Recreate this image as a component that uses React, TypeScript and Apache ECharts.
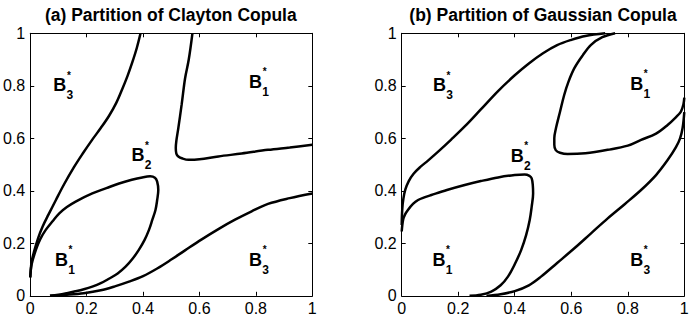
import React, { useEffect, useRef } from "react";
import * as echarts from "echarts";

const FONT = '"Liberation Sans", Arial, Helvetica, sans-serif';

const titles = ["(a) Partition of Clayton Copula", "(b) Partition of Gaussian Copula"];

// Clayton copula partition curves [u, v]
const claytonUpperLeft = [[0,0.07],[0.005,0.13],[0.014,0.17],[0.028,0.22],[0.044,0.264],[0.065,0.31],[0.091,0.365],[0.12,0.425],[0.155,0.49],[0.185,0.54],[0.22,0.595],[0.25,0.639],[0.279,0.685],[0.305,0.735],[0.326,0.787],[0.345,0.838],[0.362,0.89],[0.378,0.945],[0.391,1.0]];
const claytonLoop = [[0,0.07],[0.005,0.12],[0.02,0.175],[0.035,0.215],[0.055,0.251],[0.08,0.285],[0.103,0.314],[0.13,0.338],[0.161,0.359],[0.22,0.39],[0.27,0.41],[0.315,0.428],[0.36,0.442],[0.397,0.451],[0.425,0.455],[0.442,0.45],[0.45,0.435],[0.454,0.403],[0.45,0.365],[0.444,0.327],[0.433,0.29],[0.421,0.251],[0.405,0.212],[0.385,0.175],[0.362,0.14],[0.338,0.111],[0.31,0.085],[0.279,0.065],[0.25,0.048],[0.22,0.035],[0.19,0.025],[0.16,0.017],[0.13,0.01],[0.1,0.004],[0.07,0]];
const claytonLower = [[0.07,0],[0.13,0.004],[0.19,0.01],[0.25,0.021],[0.3,0.036],[0.35,0.054],[0.4,0.075],[0.45,0.104],[0.5,0.138],[0.55,0.174],[0.608,0.215],[0.67,0.256],[0.726,0.29],[0.785,0.322],[0.843,0.35],[0.92,0.372],[1.0,0.39]];
const claytonUpperRight = [[0.575,1.0],[0.562,0.9],[0.549,0.829],[0.537,0.73],[0.525,0.639],[0.518,0.59],[0.516,0.563],[0.518,0.542],[0.525,0.531],[0.54,0.523],[0.561,0.518],[0.6,0.52],[0.667,0.531],[0.75,0.542],[0.843,0.556],[0.92,0.565],[1.0,0.575]];

// Gaussian copula partition curves [u, v]
const gaussUpperLeft = [[0,0.27],[0.002,0.33],[0.006,0.37],[0.013,0.405],[0.025,0.437],[0.042,0.465],[0.065,0.49],[0.093,0.515],[0.13,0.55],[0.175,0.595],[0.223,0.645],[0.28,0.71],[0.341,0.78],[0.4,0.84],[0.45,0.885],[0.5,0.924],[0.55,0.955],[0.6,0.975],[0.65,0.99],[0.72,1.0]];
const gaussLoop = [[0,0.245],[0.005,0.29],[0.012,0.31],[0.022,0.327],[0.04,0.35],[0.058,0.365],[0.08,0.375],[0.105,0.384],[0.16,0.403],[0.223,0.422],[0.28,0.437],[0.341,0.451],[0.4,0.46],[0.435,0.462],[0.452,0.457],[0.46,0.447],[0.464,0.42],[0.465,0.39],[0.46,0.34],[0.453,0.289],[0.44,0.23],[0.423,0.175],[0.4,0.12],[0.376,0.073],[0.35,0.04],[0.317,0.016],[0.28,0.004],[0.24,0]];
const gaussLower = [[0.3,0],[0.35,0.006],[0.4,0.018],[0.45,0.04],[0.493,0.073],[0.55,0.125],[0.611,0.181],[0.67,0.238],[0.729,0.295],[0.79,0.35],[0.847,0.403],[0.9,0.46],[0.941,0.517],[0.97,0.565],[0.985,0.6],[0.994,0.639],[1.0,0.7]];
const gaussUpperRight = [[0.755,1.0],[0.71,0.985],[0.67,0.956],[0.64,0.915],[0.611,0.867],[0.59,0.815],[0.575,0.765],[0.56,0.7],[0.546,0.639],[0.54,0.6],[0.54,0.575],[0.545,0.555],[0.56,0.545],[0.587,0.54],[0.65,0.543],[0.729,0.556],[0.8,0.572],[0.847,0.594],[0.9,0.618],[0.941,0.651],[0.97,0.68],[0.988,0.702],[0.997,0.73],[1.0,0.755]];

// Region labels B*_k
const claytonLabelX = [0.105, 0.799, 0.382, 0.111, 0.799];
const claytonLabelY = [0.803, 0.815, 0.535, 0.138, 0.138];
const gaussLabelX = [0.134, 0.832, 0.409, 0.132, 0.832];
const gaussLabelY = [0.803, 0.808, 0.533, 0.138, 0.138];
const labelSub = ["3", "1", "2", "1", "3"];

const GRIDS = [
  { left: 29.3, top: 33.3, width: 283, height: 262.5 },
  { left: 401.7, top: 33.3, width: 282.6, height: 262.5 },
];

function App() {
  const ref = useRef<HTMLDivElement>(null);
  useEffect(() => {
    if (!ref.current) return;
    const chart = echarts.init(ref.current, undefined, { renderer: "svg" });

    const xAxes: any[] = [];
    const yAxes: any[] = [];
    const baseAxis = (gridIndex: number, position: string, labels: boolean) => ({
      gridIndex,
      type: "value",
      min: 0,
      max: 1,
      interval: 0.2,
      position,
      axisLine: { show: true, onZero: false, lineStyle: { color: "#000", width: 1 } },
      axisTick: { show: true, inside: true, length: 4, lineStyle: { color: "#000", width: 1 } },
      axisLabel: {
        show: labels,
        color: "#000",
        fontSize: 16,
        fontFamily: FONT,
        margin: 5,
      },
      splitLine: { show: false },
    });
    for (let g = 0; g < 2; g++) {
      xAxes.push(baseAxis(g, "bottom", true));
      xAxes.push(baseAxis(g, "top", false));
      yAxes.push(baseAxis(g, "left", true));
      yAxes.push(baseAxis(g, "right", false));
    }

    const curveSeries = (data: number[][], g: number) => ({
      type: "line",
      xAxisIndex: g * 2,
      yAxisIndex: g * 2,
      data,
      symbol: "none",
      smooth: 0.35,
      lineStyle: { color: "#000", width: 2.5 },
      silent: true,
    });

    const labelSeries = (xs: number[], ys: number[], g: number, kind: string) => ({
      type: "scatter",
      xAxisIndex: g * 2,
      yAxisIndex: g * 2,
      symbolSize: 0,
      itemStyle: { color: "#000" },
      silent: true,
      data: xs.map((x, i) => ({ value: [x, ys[i]], name: labelSub[i] })),
      label: {
        show: true,
        position: [0, 0],
        align: "center",
        verticalAlign: "middle",
        color: "#000",
        opacity: 1,
        textBorderWidth: 0,
        fontFamily: FONT,
        fontWeight: "bold",
        fontSize: kind === "B" ? 18 : kind === "star" ? 10 : 12,
        offset: kind === "B" ? [0, 0] : kind === "star" ? [9, -10] : [10, 10],
        formatter: (p: any) => (kind === "B" ? "B" : kind === "star" ? "*" : p.name),
      },
    });

    const option: any = {
      animation: false,
      backgroundColor: "#fff",
      title: titles.map((t, i) => ({
        text: t,
        left: GRIDS[i].left + GRIDS[i].width / 2,
        top: 6,
        padding: 0,
        textAlign: "center",
        textStyle: { fontFamily: FONT, fontWeight: "bold", fontSize: 17.5, color: "#000" },
      })),
      grid: GRIDS.map((g) => ({ ...g, containLabel: false })),
      xAxis: xAxes,
      yAxis: yAxes,
      series: [
        curveSeries(claytonUpperLeft, 0),
        curveSeries(claytonLoop, 0),
        curveSeries(claytonLower, 0),
        curveSeries(claytonUpperRight, 0),
        curveSeries(gaussUpperLeft, 1),
        curveSeries(gaussLoop, 1),
        curveSeries(gaussLower, 1),
        curveSeries(gaussUpperRight, 1),
        labelSeries(claytonLabelX, claytonLabelY, 0, "B"),
        labelSeries(claytonLabelX, claytonLabelY, 0, "star"),
        labelSeries(claytonLabelX, claytonLabelY, 0, "sub"),
        labelSeries(gaussLabelX, gaussLabelY, 1, "B"),
        labelSeries(gaussLabelX, gaussLabelY, 1, "star"),
        labelSeries(gaussLabelX, gaussLabelY, 1, "sub"),
      ],
    };
    chart.setOption(option);
    return () => chart.dispose();
  }, []);

  return (
    <div
      ref={ref}
      style={{ position: "fixed", left: 0, top: 0, width: 699, height: 324, background: "#fff" }}
    />
  );
}

export default App;
